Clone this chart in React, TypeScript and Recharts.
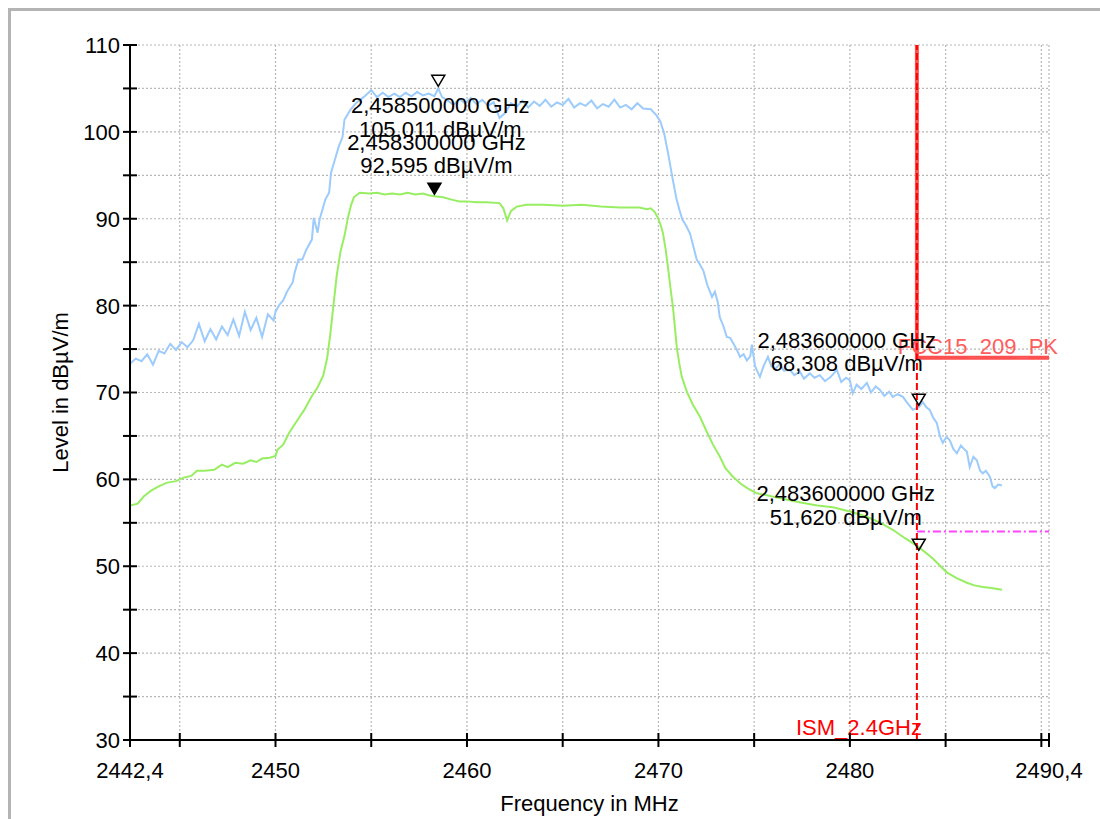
import React from 'react';
import { LineChart, Line, XAxis, YAxis, CartesianGrid, ReferenceLine, ReferenceDot } from 'recharts';

// ---------------- data ----------------
const xTicks = [2442.4, 2445, 2450, 2455, 2460, 2465, 2470, 2475, 2480, 2485, 2490, 2490.4];
const xLabelled = [2442.4, 2450, 2460, 2470, 2480, 2490.4];
const yTicks = [30, 35, 40, 45, 50, 55, 60, 65, 70, 75, 80, 85, 90, 95, 100, 105, 110];
const yLabelled = [30, 40, 50, 60, 70, 80, 90, 100, 110];

// Peak detector trace (MHz, dBµV/m)
const peakTrace: [number, number][] = [
  [2442.4, 73.3], [2442.7, 73.9], [2443.0, 73.6], [2443.3, 74.4], [2443.6, 73.2], [2443.9, 74.8],
  [2444.2, 74.5], [2444.5, 75.6], [2444.8, 74.9], [2445.1, 75.8], [2445.4, 75.2], [2445.7, 76.0],
  [2446.0, 77.9], [2446.3, 75.9], [2446.6, 77.3], [2446.9, 76.1], [2447.2, 77.6], [2447.5, 76.6],
  [2447.8, 78.4], [2448.1, 76.5], [2448.4, 79.3], [2448.7, 77.2], [2449.0, 78.6], [2449.3, 76.4],
  [2449.6, 79.0], [2449.9, 78.3], [2450.0, 79.3], [2450.2, 80.1], [2450.4, 80.6], [2450.6, 81.6],
  [2450.9, 82.7], [2451.0, 83.8], [2451.2, 85.3], [2451.4, 85.3], [2451.6, 86.4], [2451.9, 87.6],
  [2452.0, 90.1], [2452.2, 88.4], [2452.3, 89.9], [2452.6, 92.2], [2452.8, 93.0], [2452.9, 95.3],
  [2453.1, 96.8], [2453.3, 98.3], [2453.5, 99.4], [2453.6, 101.4], [2453.9, 102.5], [2454.2, 103.3],
  [2454.6, 104.0], [2455.0, 104.8], [2455.3, 104.0], [2455.6, 104.5], [2455.9, 104.0], [2456.2, 104.4],
  [2456.5, 104.0], [2456.8, 104.5], [2457.1, 104.1], [2457.4, 104.6], [2457.7, 104.2], [2458.0, 104.4],
  [2458.3, 104.1], [2458.5, 105.0], [2458.7, 104.0], [2459.0, 103.6], [2459.3, 103.1], [2459.6, 103.8],
  [2459.9, 103.3], [2460.2, 103.9], [2460.5, 103.2], [2460.8, 103.7], [2461.1, 103.0], [2461.4, 103.4],
  [2461.7, 101.6], [2462.0, 102.2], [2462.3, 103.3], [2462.6, 102.9], [2462.9, 103.6], [2463.2, 102.8],
  [2463.5, 103.5], [2463.8, 103.0], [2464.1, 103.7], [2464.4, 102.9], [2464.7, 103.4], [2465.0, 103.1],
  [2465.3, 103.8], [2465.6, 102.8], [2465.9, 103.3], [2466.2, 103.0], [2466.5, 103.6], [2466.8, 102.7],
  [2467.1, 103.2], [2467.4, 102.9], [2467.7, 103.7], [2468.0, 102.8], [2468.3, 103.1], [2468.6, 102.6],
  [2468.9, 103.3], [2469.2, 102.7], [2469.6, 102.6], [2469.9, 101.9], [2470.1, 101.2], [2470.3, 99.8],
  [2470.5, 97.6], [2470.75, 94.5], [2470.95, 92.2], [2471.1, 91.0], [2471.25, 89.9], [2471.45, 89.2],
  [2471.65, 88.3], [2471.85, 86.6], [2472.0, 85.3], [2472.15, 84.8], [2472.35, 84.0], [2472.55, 82.4],
  [2472.8, 81.0], [2472.95, 81.6], [2473.1, 80.4], [2473.2, 78.7], [2473.4, 77.6], [2473.57, 76.4],
  [2473.75, 76.3], [2473.9, 75.7], [2474.1, 74.9], [2474.26, 74.1], [2474.45, 74.4], [2474.62, 73.7],
  [2474.8, 74.2], [2474.88, 75.5], [2475.05, 73.0], [2475.3, 71.8], [2475.5, 73.1], [2475.72, 74.1],
  [2475.9, 73.0], [2476.1, 72.7], [2476.34, 73.3], [2476.55, 72.5], [2476.86, 72.6], [2477.1, 72.0],
  [2477.39, 72.4], [2477.6, 71.6], [2477.91, 72.2], [2478.15, 71.7], [2478.43, 72.0], [2478.7, 71.3],
  [2479.0, 71.8], [2479.32, 72.6], [2479.55, 71.2], [2479.8, 71.7], [2480.0, 71.4], [2480.15, 69.9],
  [2480.35, 70.9], [2480.6, 70.4], [2480.89, 71.1], [2481.1, 70.0], [2481.35, 70.7], [2481.57, 70.3],
  [2481.8, 69.6], [2482.05, 70.1], [2482.24, 69.5], [2482.5, 69.8], [2482.77, 69.5], [2483.0, 68.8],
  [2483.29, 68.0], [2483.6, 68.3], [2483.8, 68.9], [2484.0, 68.3], [2484.17, 68.0], [2484.35, 67.1],
  [2484.54, 66.5], [2484.7, 65.0], [2484.85, 64.2], [2485.05, 64.9], [2485.22, 64.5], [2485.4, 63.5],
  [2485.59, 63.0], [2485.8, 63.9], [2486.0, 63.4], [2486.11, 63.2], [2486.26, 61.4], [2486.45, 62.6],
  [2486.63, 62.2], [2486.8, 61.0], [2486.94, 60.7], [2487.1, 61.0], [2487.31, 60.3], [2487.45, 59.2],
  [2487.57, 59.0], [2487.75, 59.4], [2487.94, 59.3],
];

// Average detector trace (MHz, dBµV/m)
const avgTrace: [number, number][] = [
  [2442.4, 57.0], [2442.8, 57.2], [2443.1, 58.0], [2443.5, 58.7], [2443.9, 59.2], [2444.3, 59.6],
  [2444.8, 59.8], [2445.2, 60.2], [2445.6, 60.4], [2445.9, 61.0], [2446.3, 61.0], [2446.8, 61.1],
  [2447.2, 61.7], [2447.5, 61.4], [2447.9, 61.9], [2448.3, 61.8], [2448.7, 62.2], [2449.0, 62.0],
  [2449.3, 62.4], [2449.7, 62.5], [2450.0, 62.7], [2450.1, 63.4], [2450.4, 64.0], [2450.7, 65.3],
  [2450.9, 66.0], [2451.2, 67.0], [2451.5, 68.0], [2451.9, 69.6], [2452.2, 70.6], [2452.5, 72.0],
  [2452.7, 74.0], [2452.85, 76.5], [2453.0, 79.5], [2453.2, 83.5], [2453.4, 86.3], [2453.6, 88.0],
  [2453.8, 90.3], [2453.95, 91.6], [2454.1, 92.5], [2454.4, 93.0], [2454.9, 92.9], [2455.3, 93.0],
  [2455.7, 92.8], [2456.1, 92.9], [2456.5, 92.8], [2456.9, 93.0], [2457.3, 92.8], [2457.7, 92.9],
  [2458.0, 92.7], [2458.3, 92.6], [2458.7, 92.5], [2459.2, 92.2], [2459.6, 92.0], [2460.0, 92.0],
  [2460.5, 91.9], [2461.0, 91.9], [2461.7, 91.8], [2461.9, 91.2], [2462.1, 89.8], [2462.3, 90.9],
  [2462.6, 91.4], [2463.1, 91.6], [2464.0, 91.6], [2465.0, 91.5], [2466.0, 91.6], [2467.0, 91.4],
  [2468.0, 91.3], [2469.0, 91.3], [2469.4, 91.1], [2469.6, 91.2], [2469.8, 90.8], [2469.95, 90.2],
  [2470.1, 89.4], [2470.23, 88.4], [2470.37, 86.6], [2470.5, 84.4], [2470.63, 82.0], [2470.76, 79.8],
  [2470.96, 75.2], [2471.1, 73.2], [2471.22, 71.8], [2471.5, 70.0], [2471.8, 68.6], [2472.17, 67.2],
  [2472.5, 65.6], [2472.85, 64.0], [2473.21, 62.6], [2473.5, 61.3], [2473.89, 60.3], [2474.3, 59.5],
  [2474.7, 58.9], [2475.14, 58.4], [2475.6, 58.2], [2476.2, 57.9], [2476.86, 57.6], [2477.5, 57.3],
  [2478.3, 57.0], [2479.11, 56.8], [2480.0, 56.3], [2480.89, 55.7], [2481.6, 55.0], [2482.24, 54.2],
  [2482.9, 53.2], [2483.6, 52.2], [2484.33, 50.9], [2485.06, 49.3], [2485.6, 48.6], [2486.11, 48.1],
  [2486.5, 47.8], [2486.94, 47.6], [2487.4, 47.5], [2487.94, 47.3],
];

// Limit lines
const pkLimit: [number, number][] = [[2483.5, 110], [2483.5, 74], [2490.4, 74]];
const avLimit: [number, number][] = [[2483.5, 54], [2490.4, 54]];
const pkLimitName = 'FCC15_209_PK';
const ismEdge = 2483.5;
const ismName = 'ISM_2.4GHz';

// Markers
const markerFreqs = [2458.5, 2458.3, 2483.6, 2483.6];
const markerLevels = [105.011, 92.595, 68.308, 51.62];
const markerFilled = [false, true, false, false];

// ---------------- styles ----------------
const FONT = '"Liberation Sans", Arial, Helvetica, sans-serif';
const FS = 22;
const PEAK_COLOR = '#9ccbfc';
const AVG_COLOR = '#98ee62';
const GRID_COLOR = '#b8b8b8';
// label offsets relative to marker point: [dx, dy line1 baseline, dy line2 baseline]
const markerLabelOffsets: [number, number, number][] = [
  [2, 25, 49],
  [2, -46, -23],
  [-72, -59, -36],
  [-73, -51, -27],
];

const toRows = (pts: [number, number][]) => pts.map(([freq, level]) => ({ freq, level }));

const fmtX = (v: number) => String(v).replace('.', ',');

const XTick = (props: any) => {
  const { x, y, payload } = props;
  const v = payload.value;
  const show = xLabelled.some((t) => Math.abs(t - v) < 1e-6);
  return (
    <g>
      <line x1={x} x2={x} y1={y - 7} y2={y + 7} stroke="#000" strokeWidth={2} />
      {show && (
        <text x={x} y={y + 38} textAnchor="middle" fontFamily={FONT} fontSize={FS} fill="#000">
          {fmtX(v)}
        </text>
      )}
    </g>
  );
};

const YTick = (props: any) => {
  const { x, y, payload } = props;
  const v = payload.value;
  const show = yLabelled.includes(v);
  return (
    <g>
      <line x1={x - 7} x2={x + 7} y1={y} y2={y} stroke="#000" strokeWidth={2} />
      {show && (
        <text x={x - 10} y={y} dy="0.36em" textAnchor="end" fontFamily={FONT} fontSize={FS} fill="#000">
          {v}
        </text>
      )}
    </g>
  );
};

const MarkerShape = (idx: number) => (props: any) => {
  const { cx, cy } = props;
  if (cx == null || cy == null) return null;
  const tipY = cy - 2;
  const [dx, d1, d2] = markerLabelOffsets[idx];
  const filled = markerFilled[idx];
  const f = (markerFreqs[idx] / 1000).toFixed(9).replace('.', ',');
  const l = markerLevels[idx].toFixed(3).replace('.', ',');
  return (
    <g>
      <path
        d={`M${cx - 6.5},${tipY - 11} L${cx + 6.5},${tipY - 11} L${cx},${tipY} Z`}
        fill={filled ? '#000' : 'none'}
        stroke="#000"
        strokeWidth={1.5}
      />
      <text x={cx + dx} y={cy + d1} textAnchor="middle" fontFamily={FONT} fontSize={FS} fill="#000">
        {`${f} GHz`}
      </text>
      <text x={cx + dx} y={cy + d2} textAnchor="middle" fontFamily={FONT} fontSize={FS} fill="#000">
        {`${l} dBµV/m`}
      </text>
    </g>
  );
};

const LimitLabel = (props: any) => {
  const { cx, cy } = props;
  if (cx == null || cy == null) return null;
  return (
    <text x={cx + 9} y={cy - 4} textAnchor="end" fontFamily={FONT} fontSize={FS} fill="#ff5c5c">
      {pkLimitName}
    </text>
  );
};

export default function App() {
  const W = 1100;
  const H = 819;
  return (
    <div style={{ position: 'absolute', left: 0, top: 0, width: W, height: H, overflow: 'hidden', background: '#fff' }}>
      <div
        style={{
          position: 'absolute',
          left: 8,
          top: 8,
          width: 1300,
          height: 1000,
          borderLeft: '3px solid #b4b4b4',
          borderTop: '3px solid #b4b4b4',
          boxSizing: 'border-box',
        }}
      />
      <div style={{ position: 'absolute', left: 0, top: 0 }}>
        <LineChart width={W} height={H} margin={{ top: 45, right: 51, bottom: 39, left: 70 }}>
          <CartesianGrid stroke={GRID_COLOR} strokeDasharray="2 2" strokeWidth={1.2} />
          <XAxis
            dataKey="freq"
            type="number"
            domain={[2442.4, 2490.4]}
            ticks={xTicks}
            interval={0}
            allowDataOverflow
            height={40}
            tickSize={0}
            tickMargin={0}
            tickLine={false}
            axisLine={{ stroke: '#000', strokeWidth: 2 }}
            tick={<XTick />}
            label={(p: any) => {
              const vb = p.viewBox || {};
              return (
                <text
                  x={(vb.x ?? 130) + (vb.width ?? 919) / 2}
                  y={(vb.y ?? 740) + 71}
                  textAnchor="middle"
                  fontFamily={FONT}
                  fontSize={FS}
                  fill="#000"
                >
                  Frequency in MHz
                </text>
              );
            }}
          />
          <YAxis
            type="number"
            domain={[30, 110]}
            ticks={yTicks}
            interval={0}
            allowDataOverflow
            width={60}
            tickSize={0}
            tickMargin={0}
            tickLine={false}
            axisLine={{ stroke: '#000', strokeWidth: 2 }}
            tick={<YTick />}
            label={(p: any) => {
              const vb = p.viewBox || {};
              const cx = (vb.x ?? 70) - 10;
              const cy = (vb.y ?? 45) + (vb.height ?? 695) / 2;
              return (
                <text
                  x={cx}
                  y={cy}
                  transform={`rotate(-90 ${cx} ${cy})`}
                  textAnchor="middle"
                  dominantBaseline="central"
                  fontFamily={FONT}
                  fontSize={FS}
                  fill="#000"
                >
                  Level in dBµV/m
                </text>
              );
            }}
          />
          <Line
            data={toRows(avLimit)}
            dataKey="level"
            type="linear"
            stroke="#ff44ff"
            strokeWidth={2}
            strokeDasharray="8 3 2 3"
            dot={false}
            isAnimationActive={false}
          />
          <Line
            data={toRows(avgTrace)}
            dataKey="level"
            type="linear"
            stroke={AVG_COLOR}
            strokeWidth={2}
            dot={false}
            isAnimationActive={false}
          />
          <Line
            data={toRows(peakTrace)}
            dataKey="level"
            type="linear"
            stroke={PEAK_COLOR}
            strokeWidth={2}
            dot={false}
            isAnimationActive={false}
          />
          <Line
            data={toRows(pkLimit)}
            dataKey="level"
            type="linear"
            stroke="#ff5050"
            strokeWidth={4}
            dot={false}
            isAnimationActive={false}
          />
          <ReferenceLine
            x={ismEdge}
            stroke="#ff0000"
            strokeWidth={2}
            strokeDasharray="7 3"
            label={(p: any) => {
              const vb = p.viewBox || {};
              return (
                <text
                  x={(vb.x ?? 917) + 5}
                  y={(vb.y ?? 45) + (vb.height ?? 695) - 5}
                  textAnchor="end"
                  fontFamily={FONT}
                  fontSize={FS}
                  fill="#ff0000"
                >
                  {ismName}
                </text>
              );
            }}
          />
          <ReferenceDot x={pkLimit[2][0]} y={pkLimit[2][1]} r={0} shape={LimitLabel} />
          {markerFreqs.map((f, i) => (
            <ReferenceDot key={i} x={f} y={markerLevels[i]} r={0} shape={MarkerShape(i)} />
          ))}
        </LineChart>
      </div>
    </div>
  );
}
